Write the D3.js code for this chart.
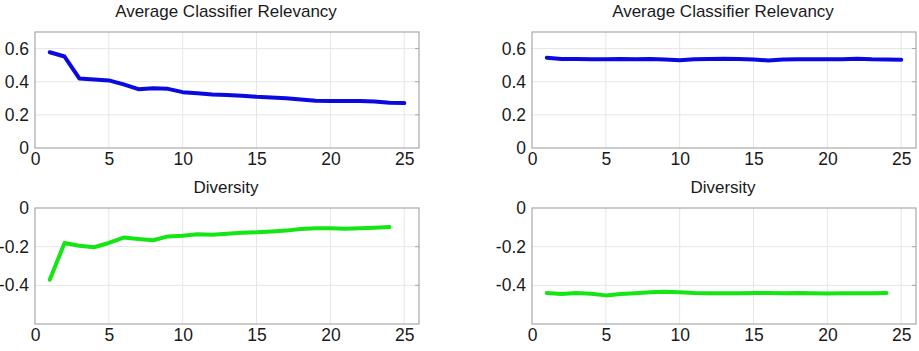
<!DOCTYPE html>
<html>
<head>
<meta charset="utf-8">
<script src="https://cdn.jsdelivr.net/npm/d3@7"></script>
<style>
  body { margin: 0; background: #fff; }
  text { font-family: "Liberation Sans", Arial, sans-serif; fill: #1a1a1a; }
</style>
</head>
<body>
<svg id="chart" width="919" height="351"></svg>
<script>
// values
const relevancyLeft = [0.578, 0.552, 0.42, 0.414, 0.408, 0.384, 0.355, 0.36, 0.357, 0.337,
  0.33, 0.323, 0.32, 0.315, 0.309, 0.305, 0.30, 0.293, 0.285, 0.283,
  0.283, 0.283, 0.281, 0.273, 0.271];
const relevancyRight = [0.545, 0.537, 0.537, 0.535, 0.535, 0.537, 0.536, 0.537, 0.534, 0.529,
  0.535, 0.537, 0.538, 0.537, 0.534, 0.528, 0.534, 0.535, 0.535, 0.535,
  0.536, 0.538, 0.535, 0.534, 0.533];
const diversityLeft = [-0.371, -0.181, -0.195, -0.203, -0.181, -0.153, -0.160, -0.167, -0.147, -0.143,
  -0.136, -0.138, -0.133, -0.128, -0.126, -0.122, -0.117, -0.109, -0.105, -0.105,
  -0.107, -0.105, -0.102, -0.098];
const diversityRight = [-0.44, -0.445, -0.44, -0.443, -0.452, -0.445, -0.441, -0.436, -0.433, -0.436,
  -0.44, -0.441, -0.441, -0.441, -0.44, -0.44, -0.441, -0.44, -0.441, -0.442,
  -0.441, -0.441, -0.441, -0.44];

const xTicks = [0, 5, 10, 15, 20, 25];
const relevancyTicks = [0, 0.2, 0.4, 0.6];
const diversityTicks = [-0.4, -0.2, 0];

const panels = [
  {title: 'Average Classifier Relevancy', values: relevancyLeft, yDomain: [0, 0.7], yTicks: relevancyTicks, color: '#0a0ae0', left: 35, top: 32},
  {title: 'Average Classifier Relevancy', values: relevancyRight, yDomain: [0, 0.7], yTicks: relevancyTicks, color: '#0a0ae0', left: 532, top: 32},
  {title: 'Diversity', values: diversityLeft, yDomain: [-0.6, 0], yTicks: diversityTicks, color: '#14e614', left: 35, top: 208},
  {title: 'Diversity', values: diversityRight, yDomain: [-0.6, 0], yTicks: diversityTicks, color: '#14e614', left: 532, top: 208}
];

const w = 384, h = 116;
const svg = d3.select('#chart');

panels.forEach(p => {
  const g = svg.append('g').attr('transform', 'translate(' + p.left + ',' + p.top + ')');

  const x = d3.scaleLinear().domain([0, 26]).range([0, w]);
  const y = d3.scaleLinear().domain(p.yDomain).range([h, 0]);

  // grid
  g.append('g')
    .selectAll('line')
    .data(xTicks.filter(t => t > 0))
    .enter().append('line')
    .attr('x1', d => x(d)).attr('x2', d => x(d))
    .attr('y1', 0).attr('y2', h)
    .attr('stroke', '#e6e6e6').attr('stroke-width', 1);

  g.append('g')
    .selectAll('line')
    .data(p.yTicks.filter(t => y(t) > 0.5 && y(t) < h - 0.5))
    .enter().append('line')
    .attr('x1', 0).attr('x2', w)
    .attr('y1', d => y(d)).attr('y2', d => y(d))
    .attr('stroke', '#e6e6e6').attr('stroke-width', 1);

  // box
  g.append('rect')
    .attr('x', 0).attr('y', 0).attr('width', w).attr('height', h)
    .attr('fill', 'none').attr('stroke', '#a8a8a8').attr('stroke-width', 1.2);

  // axes
  const xAxis = d3.axisBottom(x).tickValues(xTicks).tickSize(0).tickPadding(5);
  g.append('g')
    .attr('transform', 'translate(0,' + h + ')')
    .call(xAxis)
    .call(s => s.select('.domain').remove())
    .selectAll('text')
    .style('font-size', '17.5px')
    .attr('font-family', null);

  const yAxis = d3.axisLeft(y).tickValues(p.yTicks).tickSize(0).tickPadding(6)
    .tickFormat(d => d === 0 ? '0' : d3.format('.1f')(d).replace('\u2212', '-'));
  g.append('g')
    .call(yAxis)
    .call(s => s.select('.domain').remove())
    .selectAll('text')
    .style('font-size', '17.5px')
    .attr('font-family', null);

  // small inward ticks on right edge
  g.append('g')
    .selectAll('line')
    .data(p.yTicks.filter(t => y(t) > 0.5 && y(t) < h - 0.5))
    .enter().append('line')
    .attr('x1', w - 4).attr('x2', w)
    .attr('y1', d => y(d)).attr('y2', d => y(d))
    .attr('stroke', '#a8a8a8');

  // title
  g.append('text')
    .attr('x', w / 2 - 1)
    .attr('y', -15)
    .attr('text-anchor', 'middle')
    .style('font-size', '17px')
    .text(p.title);

  // line
  const line = d3.line()
    .x((d, i) => x(i + 1))
    .y(d => y(d));

  g.append('path')
    .datum(p.values)
    .attr('fill', 'none')
    .attr('stroke', p.color)
    .attr('stroke-width', 4)
    .attr('stroke-linejoin', 'round')
    .attr('stroke-linecap', 'round')
    .attr('d', line);
});
</script>
</body>
</html>
